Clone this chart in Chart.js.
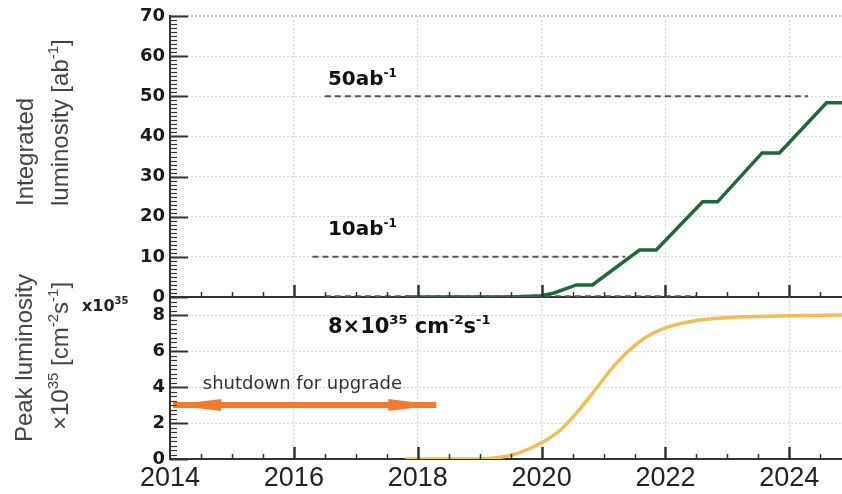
<!DOCTYPE html>
<html>
<head>
<meta charset="utf-8">
<script src="https://cdn.jsdelivr.net/npm/chart.js@4.4.1/dist/chart.umd.min.js"></script>
<style>
  body { margin: 0; background: #fff; }
  #wrap { position: relative; width: 842px; height: 494px; overflow: hidden; }
  canvas { position: absolute; left: 0; }
  #top { top: 0; }
  #bot { top: 250px; }
</style>
</head>
<body>
<div id="wrap">
  <canvas id="top" width="842" height="320"></canvas>
  <canvas id="bot" width="842" height="244"></canvas>
</div>
<script>
// integrated luminosity [ab^-1] (top panel)
const intYears = [2017.8, 2019.5, 2020.0, 2020.2, 2020.56, 2020.82, 2021.58, 2021.85, 2022.6, 2022.84, 2023.56, 2023.84, 2024.6, 2024.85];
const intLumi  = [0, 0, 0.3, 1.0, 3.0, 3.0, 11.7, 11.7, 23.7, 23.7, 35.9, 35.9, 48.4, 48.4];

// peak luminosity x10^35 (bottom panel)
const peakYears = [2017.8, 2019.0, 2019.3, 2019.6, 2020.0, 2020.3, 2020.6, 2020.9, 2021.2, 2021.5, 2021.8, 2022.1, 2022.5, 2023.0, 2023.5, 2024.0, 2024.85];
const peakLumi  = [0, 0, 0.08, 0.3, 0.9, 1.6, 2.7, 4.0, 5.3, 6.3, 7.0, 7.4, 7.7, 7.85, 7.92, 7.96, 8.0];

// goal lines and the shutdown arrow
const goal50X = [2016.5, 2024.3];
const goal50Y = [50, 50];
const goal10X = [2016.3, 2021.35];
const goal10Y = [10, 10];
const baseX = [2016.5, 2022.5];
const baseY = [0.2, 0.2];
const shutdownX = [2014.05, 2018.3];
const shutdownY = [3, 3];

const yearMin = 2014, yearMax = 2024.85;
const gridBlue = 'rgba(140,185,225,0.5)';

function pts(xs, ys) {
  return xs.map((x, i) => ({ x: x, y: ys[i] }));
}

// text with superscript parts: [[text, isSup], ...]
function drawRich(ctx, parts, x, y, size, bold, family, color) {
  const w = bold ? 'bold ' : '';
  ctx.fillStyle = color;
  ctx.textAlign = 'left';
  ctx.textBaseline = 'alphabetic';
  let cx = x;
  for (const [t, sup] of parts) {
    const s = sup ? Math.round(size * 0.62) : size;
    ctx.font = w + s + 'px "' + family + '"';
    ctx.fillText(t, cx, sup ? y - size * 0.42 : y);
    cx += ctx.measureText(t).width;
  }
}

function drawRotated(ctx, parts, x, y, size, family, color) {
  ctx.save();
  ctx.translate(x, y);
  ctx.rotate(-Math.PI / 2);
  drawRich(ctx, parts, 0, 0, size, false, family, color);
  ctx.restore();
}

// inward tick marks on the left and bottom axes
const tickMarks = {
  id: 'tickMarks',
  afterDatasetsDraw(chart, args, opts) {
    const { ctx, chartArea: a, scales: { x, y } } = chart;
    ctx.save();
    ctx.strokeStyle = '#333';
    const nY = Math.round((y.max - y.min) / opts.yMinor);
    for (let i = 0; i <= nY; i++) {
      const v = y.min + i * opts.yMinor;
      const major = Math.abs(v / opts.yMajor - Math.round(v / opts.yMajor)) < 1e-6;
      const py = Math.round(y.getPixelForValue(v)) + 0.5;
      ctx.lineWidth = major ? 2 : 1.2;
      ctx.beginPath();
      ctx.moveTo(a.left, py);
      ctx.lineTo(a.left + (major ? 18 : 7), py);
      ctx.stroke();
    }
    const nX = Math.floor((yearMax - yearMin) / 0.5);
    for (let i = 1; i <= nX; i++) {
      const v = yearMin + i * 0.5;
      const major = i % 4 === 0;
      const px = Math.round(x.getPixelForValue(v)) + 0.5;
      ctx.lineWidth = major ? 2.5 : 1.5;
      ctx.beginPath();
      ctx.moveTo(px, a.bottom);
      ctx.lineTo(px, a.bottom - (major ? 12 : 5));
      ctx.stroke();
    }
    ctx.restore();
  }
};

function xScale(showLabels, h) {
  return {
    type: 'linear', min: yearMin, max: yearMax,
    ticks: {
      display: showLabels, stepSize: 2, includeBounds: false, padding: 3,
      maxRotation: 0, autoSkip: false, color: '#222',
      font: { family: 'Liberation Sans', size: 27 },
      callback: v => String(v)
    },
    grid: { drawTicks: false, color: gridBlue, lineWidth: 1 },
    border: { display: true, color: '#333', width: 2, dash: [2, 2] },
    afterFit: s => { s.height = h; }
  };
}

function yScale(max, step) {
  return {
    min: 0, max: max,
    ticks: {
      stepSize: step, includeBounds: false, padding: 5, color: '#1a1a1a',
      font: { family: 'DejaVu Sans', size: 18, weight: 'bold' }
    },
    grid: {
      drawTicks: false, lineWidth: c => (c.tick && c.tick.value === 70 ? 2 : 1),
      color: c => (c.tick && c.tick.value === 70 ? '#b8c0c8' : gridBlue)
    },
    border: { display: true, color: '#333', width: 2, dash: [2, 2] },
    afterFit: s => { s.width = 170; }
  };
}

// top panel
const topLabels = {
  id: 'topLabels',
  afterDraw(chart) {
    const { ctx, scales: { x, y } } = chart;
    drawRich(ctx, [['50ab', false], ['-1', true]], x.getPixelForValue(2016.55), y.getPixelForValue(52.8), 20, true, 'DejaVu Sans', '#111');
    drawRich(ctx, [['10ab', false], ['-1', true]], x.getPixelForValue(2016.55), y.getPixelForValue(15.4), 20, true, 'DejaVu Sans', '#111');
    drawRotated(ctx, [['Integrated', false]], 33, 206, 24, 'Liberation Sans', '#444');
    drawRotated(ctx, [['luminosity [ab', false], ['-1', true], [']', false]], 68, 206, 24, 'Liberation Sans', '#444');
  }
};

new Chart(document.getElementById('top'), {
  type: 'line',
  data: {
    datasets: [
      { data: pts(goal50X, goal50Y), borderColor: '#555', borderWidth: 2, borderDash: [6, 4], pointRadius: 0 },
      { data: pts(goal10X, goal10Y), borderColor: '#555', borderWidth: 2, borderDash: [6, 4], pointRadius: 0 },
      { data: pts(baseX, baseY), borderColor: '#555', borderWidth: 2, borderDash: [6, 4], pointRadius: 0 },
      { data: pts(intYears, intLumi), borderColor: '#1d6a37', borderWidth: 3.5, pointRadius: 0, tension: 0 }
    ]
  },
  options: {
    responsive: false, animation: false,
    layout: { padding: { top: 16, left: 0, right: 0, bottom: 0 } },
    plugins: { legend: { display: false }, tooltip: { enabled: false }, tickMarks: { yMinor: 1, yMajor: 10 } },
    scales: { x: xScale(false, 23), y: yScale(70, 10) }
  },
  plugins: [tickMarks, topLabels]
});

// bottom panel
const botLabels = {
  id: 'botLabels',
  afterDraw(chart) {
    const { ctx, scales: { x, y } } = chart;
    drawRich(ctx, [['8×10', false], ['35', true], [' cm', false], ['-2', true], ['s', false], ['-1', true]],
      x.getPixelForValue(2016.55), y.getPixelForValue(7.0), 21, true, 'DejaVu Sans', '#111');
    ctx.font = '18px "DejaVu Sans"';
    ctx.fillStyle = '#333';
    ctx.fillText('shutdown for upgrade', x.getPixelForValue(2014.53), y.getPixelForValue(3.9));
    drawRich(ctx, [['x10', false], ['35', true]], 82, 311 - 250, 16, true, 'DejaVu Sans', '#222');
    // arrow heads
    const yp = y.getPixelForValue(shutdownY[0]);
    const xl = x.getPixelForValue(shutdownX[0]);
    const xr = x.getPixelForValue(shutdownX[1]);
    ctx.fillStyle = '#f07a30';
    ctx.beginPath();
    ctx.moveTo(xl, yp); ctx.lineTo(xl + 48, yp - 6); ctx.lineTo(xl + 48, yp + 6); ctx.closePath();
    ctx.fill();
    ctx.beginPath();
    ctx.moveTo(xr, yp); ctx.lineTo(xr - 48, yp - 6); ctx.lineTo(xr - 48, yp + 6); ctx.closePath();
    ctx.fill();
    drawRotated(ctx, [['Peak luminosity', false]], 32, 442 - 250, 24, 'Liberation Sans', '#444');
    drawRotated(ctx, [['×10', false], ['35', true], [' [cm', false], ['-2', true], ['s', false], ['-1', true], [']', false]], 68, 430 - 250, 24, 'Liberation Sans', '#444');
  }
};

new Chart(document.getElementById('bot'), {
  type: 'line',
  data: {
    datasets: [
      { data: pts(shutdownX, shutdownY), borderColor: '#f07a30', borderWidth: 6, pointRadius: 0 },
      { data: pts(peakYears, peakLumi), borderColor: '#f2bd55', borderWidth: 3.5, pointRadius: 0, cubicInterpolationMode: 'monotone' }
    ]
  },
  options: {
    responsive: false, animation: false,
    layout: { padding: { top: 47, left: 0, right: 0, bottom: 0 } },
    plugins: { legend: { display: false }, tooltip: { enabled: false }, tickMarks: { yMinor: 0.25, yMajor: 2 } },
    scales: { x: xScale(true, 35), y: yScale(9, 2) }
  },
  plugins: [tickMarks, botLabels]
});
</script>
</body>
</html>
